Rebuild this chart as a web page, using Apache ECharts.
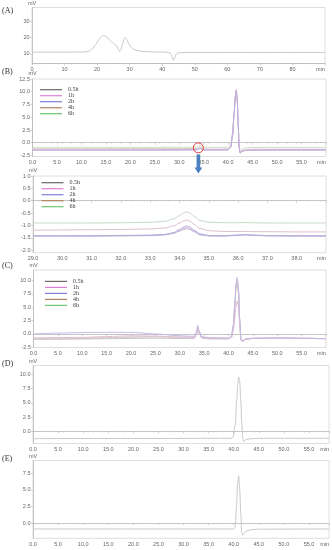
<!DOCTYPE html>
<html><head><meta charset="utf-8">
<script src="https://cdn.jsdelivr.net/npm/echarts@6/dist/echarts.min.js"></script>
<style>html,body{margin:0;padding:0;background:#fff}#c{width:332px;height:550px}</style>
</head><body><div id="c"></div>
<script>
// ---------- DATA ----------
const seriesNames = ['0.5h', '1h', '2h', '4h', '6h'];

// Panel A
const aTime   = [0, 10, 16, 17.5, 18.5, 19.5, 20.5, 21.3, 22, 22.8, 23.6, 24.5, 25.3, 25.9, 26.4, 26.9, 27.3, 27.8, 28.3, 28.7, 29.2, 29.8, 30.5, 31.5, 33, 35, 38, 41, 42.3, 42.9, 43.4, 43.8, 44.3, 45, 47, 60, 90];
const aSignal = [11.0, 11.0, 11.1, 11.6, 13.0, 15.5, 18.5, 20.6, 21.3, 20.6, 19.0, 17.2, 16.0, 15.2, 13.2, 11.4, 12.2, 16.0, 19.4, 20.2, 18.6, 15.8, 13.8, 12.5, 11.7, 11.3, 11.1, 11.0, 10.6, 8.8, 6.0, 7.5, 9.8, 10.6, 10.8, 10.8, 10.8];

// Panel B
const bTime = [0, 10, 20, 30, 33.6, 34.25, 34.9, 38, 40.0, 40.5, 40.9, 41.2, 41.45, 41.65, 41.85, 42.05, 42.25, 42.45, 42.8, 43.5, 45, 50, 60];
const b05 = [-1.43,-1.43,-1.43,-1.42,-1.38,-1.13,-1.41,-1.43,-1.38,-0.95,1.4,5.3,8.8,10.2,8.4,3.4,-1.0,-2.0,-1.7,-1.5,-1.45,-1.43,-1.43];
const b1  = [-1.41,-1.41,-1.41,-1.40,-1.36,-1.09,-1.40,-1.41,-1.36,-0.92,1.45,5.4,8.9,10.3,8.5,3.5,-1.0,-2.0,-1.7,-1.5,-1.44,-1.42,-1.42];
const b2  = [-1.42,-1.42,-1.42,-1.41,-1.37,-1.02,-1.40,-1.42,-1.37,-0.90,1.5,5.5,9.0,10.4,8.6,3.6,-1.0,-2.05,-1.7,-1.5,-1.45,-1.42,-1.42];
const b4  = [-1.19,-1.18,-1.17,-1.15,-1.12,-0.78,-1.20,-1.25,-1.2,-0.75,1.6,5.5,8.9,10.2,8.4,3.5,-0.9,-1.9,-1.55,-1.35,-1.28,-1.26,-1.26];
const b6  = [-0.90,-0.90,-0.90,-0.89,-0.85,-0.45,-0.87,-0.90,-0.88,-0.45,1.9,5.8,9.1,10.3,8.5,3.6,-0.7,-1.6,-1.25,-1.0,-0.93,-0.90,-0.90];

// Panel B (zoomed window)
const zTime = [29, 30, 31, 32, 33, 33.5, 33.8, 34.0, 34.15, 34.25, 34.35, 34.5, 34.7, 35.0, 35.5, 36.0, 36.25, 36.5, 37, 38, 39];
const z6  = [-0.90,-0.90,-0.90,-0.89,-0.87,-0.83,-0.74,-0.60,-0.49,-0.45,-0.49,-0.63,-0.80,-0.87,-0.89,-0.89,-0.88,-0.89,-0.90,-0.90,-0.90];
const z4  = [-1.19,-1.18,-1.17,-1.16,-1.14,-1.10,-1.02,-0.90,-0.81,-0.78,-0.82,-0.95,-1.12,-1.21,-1.24,-1.24,-1.24,-1.25,-1.25,-1.26,-1.26];
const z2  = [-1.42,-1.42,-1.42,-1.41,-1.40,-1.37,-1.29,-1.16,-1.06,-1.02,-1.06,-1.19,-1.34,-1.41,-1.42,-1.39,-1.37,-1.39,-1.41,-1.42,-1.42];
const z1  = [-1.41,-1.41,-1.41,-1.40,-1.39,-1.36,-1.30,-1.20,-1.12,-1.09,-1.12,-1.23,-1.36,-1.41,-1.41,-1.39,-1.37,-1.39,-1.41,-1.41,-1.42];
const z05 = [-1.43,-1.43,-1.43,-1.42,-1.41,-1.38,-1.32,-1.23,-1.16,-1.13,-1.16,-1.26,-1.38,-1.42,-1.43,-1.40,-1.38,-1.40,-1.42,-1.43,-1.43];

// Panel C
const cTime = [0, 5, 10, 15, 20, 25, 30, 33.0, 33.4, 33.7, 34.0, 34.5, 36, 40, 40.6, 41.0, 41.3, 41.55, 41.8, 42.05, 42.3, 42.55, 42.9, 43.6, 45, 50, 55, 60];
const c05 = [-1.05,-1.0,-0.95,-0.9,-0.85,-0.8,-0.85,-0.85,-0.2,0.9,0.1,-0.8,-0.95,-0.95,-0.6,1.5,5.5,9.2,10.3,8.0,2.5,-1.2,-1.4,-1.0,-0.85,-0.8,-0.85,-0.9];
const c1  = [-0.75,-0.7,-0.65,-0.5,-0.35,-0.4,-0.6,-0.65,0.0,1.2,0.3,-0.65,-0.8,-0.85,-0.65,0.7,2.9,5.2,6.2,5.0,1.8,-0.8,-1.3,-0.95,-0.85,-0.8,-0.85,-0.9];
const c2  = [0.0,0.15,0.25,0.3,0.3,0.0,-0.35,-0.45,0.3,1.6,0.5,-0.5,-0.7,-0.75,-0.4,1.8,6.0,9.5,10.6,8.5,3.0,-1.1,-1.35,-0.9,-0.8,-0.75,-0.8,-0.9];
const c4  = [-0.95,-0.9,-0.85,-0.75,-0.6,-0.55,-0.7,-0.7,-0.1,1.0,0.2,-0.7,-0.85,-0.9,-0.6,1.2,4.8,8.5,9.8,7.6,2.2,-1.0,-1.35,-0.95,-0.82,-0.78,-0.82,-0.88];
const c6  = [-0.85,-0.8,-0.75,-0.7,-0.6,-0.5,-0.6,-0.6,0.1,1.3,0.3,-0.6,-0.8,-0.85,-0.55,1.4,5.2,8.9,10.0,7.8,2.4,-1.0,-1.3,-0.92,-0.82,-0.78,-0.82,-0.88];

// Panel D
const dTime   = [0, 20, 39.5, 39.9, 40.3, 40.6, 40.8, 41.0, 41.2, 41.4, 41.6, 41.8, 42.0, 42.4, 43, 45, 59];
const dSignal = [-1.25, -1.22, -1.2, -0.9, 1.2, 5.5, 8.3, 9.5, 8.6, 5.5, 1.5, -1.2, -1.7, -1.45, -1.3, -1.2, -1.2];

// Panel E
const eTime   = [0, 20, 40, 40.3, 40.55, 40.8, 41.0, 41.2, 41.4, 41.6, 41.8, 42.1, 42.6, 43.5, 45, 59];
const eSignal = [-0.85, -0.85, -0.85, -0.5, 2.5, 6.2, 7.1, 5.0, 1.5, -1.4, -1.8, -1.5, -1.15, -0.95, -0.88, -0.85];

// Tick labels
const xTicksA = [0, 10, 20, 30, 40, 50, 60, 70, 80, 90];
const xTicks60 = [0, 5, 10, 15, 20, 25, 30, 35, 40, 45, 50, 55, 60];
const xTicksZ = [29, 30, 31, 32, 33, 34, 35, 36, 37, 38, 39];
const xTicksDE = [0, 5, 10, 15, 20, 25, 30, 35, 40, 45, 50, 55, 59];
const yTicksA = [10, 20, 30];
const yTicksB = [-2.5, 0, 2.5, 5, 7.5, 10, 12.5];
const yTicksZ = [-2, -1.5, -1, -0.5, 0, 0.5, 1];
const yTicksC = [-2.5, 0, 2.5, 5, 7.5, 10];
const yTicksD = [0, 2.5, 5, 7.5, 10];
const yTicksE = [0, 2.5, 5, 7.5];

// ---------- CHART ----------
const zip = (t, v) => t.map((x, i) => [x, v[i]]);
const legendColors = ['#6e6464', '#df7fd6', '#7f7fd6', '#b08463', '#6fc46f'];
const LBL = '#666', AX = '#b8b8b8', FS = 5.5, FF = 'Liberation Sans';

const grids = [
  {left: 32, top: 7, width: 293, height: 56.5},
  {left: 32.5, top: 79, width: 293.5, height: 77.5},
  {left: 33, top: 176, width: 293, height: 76.7},
  {left: 33.5, top: 270, width: 292.5, height: 77.5},
  {left: 33, top: 365.5, width: 297, height: 78},
  {left: 33, top: 460.5, width: 297, height: 77.8}
].map(g => Object.assign(g, {show: true, borderColor: '#d6d6d6', borderWidth: 0.8}));

function makeX(i, min, max, ticks, dec) {
  return {
    type: 'value', gridIndex: i, min: min, max: max,
    axisLine: {show: true, lineStyle: {color: AX, width: 0.8}},
    axisTick: {show: true, length: 2, lineStyle: {color: AX, width: 0.6}, customValues: ticks},
    minorTick: {show: true, splitNumber: 5, length: 1.2, lineStyle: {color: '#cfcfcf', width: 0.5}},
    splitLine: {show: false},
    axisLabel: {
      customValues: ticks, margin: 3, fontSize: FS, color: LBL, fontFamily: FF,
      formatter: v => v === max ? '{m|min}' : (dec ? v.toFixed(1) : String(v)),
      rich: {m: {fontSize: FS, color: LBL, fontFamily: FF, padding: [0, 9, 0, 0]}}
    }
  };
}
function makeY(i, min, max, ticks, dec) {
  return {
    type: 'value', gridIndex: i, min: min, max: max,
    name: 'mV', nameLocation: 'end', nameGap: 1.5,
    nameTextStyle: {fontSize: FS, color: LBL, fontFamily: FF, align: 'center', verticalAlign: 'bottom'},
    axisLine: {show: true, lineStyle: {color: AX, width: 0.8}},
    axisTick: {show: true, length: 2, lineStyle: {color: AX, width: 0.6}, customValues: ticks},
    splitLine: {show: false},
    axisLabel: {
      customValues: ticks, margin: 2.5, fontSize: FS, color: LBL, fontFamily: FF,
      formatter: v => dec ? v.toFixed(1) : String(v)
    }
  };
}

const xAxis = [
  makeX(0, 0, 90, xTicksA, false),
  makeX(1, 0, 60, xTicks60, true),
  makeX(2, 29, 39, xTicksZ, true),
  makeX(3, 0, 60, xTicks60, true),
  makeX(4, 0, 59, xTicksDE, true),
  makeX(5, 0, 59, xTicksDE, true)
];
const yAxis = [
  makeY(0, 4, 38.5, yTicksA, false),
  makeY(1, -2.7, 12.5, yTicksB, true),
  makeY(2, -2.1, 1.0, yTicksZ, true),
  makeY(3, -2.55, 12.0, yTicksC, true),
  makeY(4, -2.1, 11.5, yTicksD, true),
  makeY(5, -2.25, 9.4, yTicksE, true)
];

function line(name, gi, t, v, color, extra) {
  return Object.assign({
    name: name, type: 'line', xAxisIndex: gi, yAxisIndex: gi,
    data: zip(t, v), showSymbol: false, symbol: 'none',
    smooth: 0.3, smoothMonotone: 'x',
    lineStyle: {color: color, width: 1}, itemStyle: {color: color},
    silent: true, animation: false
  }, extra || {});
}

const series = [
  line('A', 0, aTime, aSignal, '#c9c9c9'),
  // B
  line('6h', 1, bTime, b6, '#cbdcca'),
  line('4h', 1, bTime, b4, '#dcc9c3'),
  line('0.5h', 1, bTime, b05, '#c3bcc9'),
  line('1h', 1, bTime, b1, '#e3bde2'),
  line('2h', 1, bTime, b2, '#bcaee0', {
    markPoint: {
      silent: true, symbol: 'circle', symbolSize: 10,
      itemStyle: {color: 'rgba(0,0,0,0)', borderColor: '#e0393b', borderWidth: 1},
      label: {show: false},
      data: [{coord: [33.9, -1.0]}]
    }
  }),
  // B zoom
  line('6h', 2, zTime, z6, '#c7d8c5'),
  line('4h', 2, zTime, z4, '#dcbfd2'),
  line('0.5h', 2, zTime, z05, '#c2bcd0'),
  line('1h', 2, zTime, z1, '#d4b3dd'),
  line('2h', 2, zTime, z2, '#aeaee2'),
  // C
  line('6h', 3, cTime, c6, '#c9dbc9'),
  line('4h', 3, cTime, c4, '#d9cbc5'),
  line('0.5h', 3, cTime, c05, '#c6c6c6'),
  line('1h', 3, cTime, c1, '#e6bcd9'),
  line('2h', 3, cTime, c2, '#c6b9e6'),
  // D, E
  line('D', 4, dTime, dSignal, '#c9c9c9'),
  line('E', 5, eTime, eSignal, '#c9c9c9')
];

function legendAt(left, top, lh) {
  return {
    show: true, orient: 'vertical', left: left, top: top, padding: 0, itemGap: 0,
    itemWidth: 22, itemHeight: 1.2, icon: 'rect', selectedMode: false,
    textStyle: {fontSize: 6, lineHeight: lh, color: '#444', fontFamily: 'Liberation Serif', padding: [0, 0, 0, 1]},
    data: seriesNames.map((n, i) => ({name: n, itemStyle: {color: legendColors[i]}}))
  };
}

const T = (txt, x, y) => ({type: 'text', left: x, top: y, z: 100,
  style: {text: txt, fontSize: 8, fontFamily: 'Liberation Serif', fill: '#333'}});

const option = {
  backgroundColor: '#fff',
  animation: false,
  grid: grids,
  xAxis: xAxis,
  yAxis: yAxis,
  legend: [legendAt(40, 86.7, 5.3), legendAt(41.5, 179.7, 5.4), legendAt(45, 278.4, 4.6)],
  series: series,
  graphic: [
    T('(A)', 2, 6.5),
    T('(B)', 2, 68),
    T('(C)', 2, 262),
    T('(D)', 2, 360),
    T('(E)', 2, 455),
    {type: 'polygon', z: 100, shape: {points: [
      [196.6, 154.5], [200.2, 154.5], [200.2, 167.5], [202.3, 167.5],
      [198.4, 173.5], [194.5, 167.5], [196.6, 167.5]
    ]}, style: {fill: '#4a7fc0'}}
  ]
};

const chart = echarts.init(document.getElementById('c'), null, {renderer: 'canvas'});
chart.setOption(option);
</script></body></html>
